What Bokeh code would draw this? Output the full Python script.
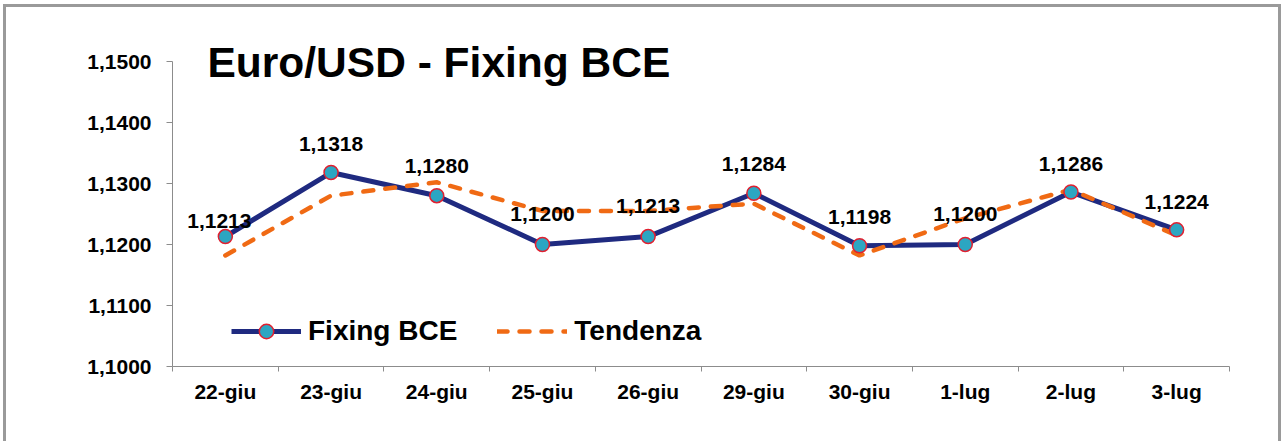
from bokeh.plotting import figure
from bokeh.models import (FactorRange, Range1d, LinearAxis, FixedTicker, CustomJSTickFormatter,
                          ColumnDataSource, Legend, LegendItem, Label)
from bokeh.core.properties import value
from bokeh.embed import file_html
from bokeh.resources import INLINE

# ---- data ----
categories = ["22-giu", "23-giu", "24-giu", "25-giu", "26-giu",
              "29-giu", "30-giu", "1-lug", "2-lug", "3-lug"]
fixing_bce = [1.1213, 1.1318, 1.1280, 1.1200, 1.1213,
              1.1284, 1.1198, 1.1200, 1.1286, 1.1224]
tendenza = [1.1182, 1.1280, 1.1302, 1.1255, 1.1255,
            1.1267, 1.1182, 1.1243, 1.1290, 1.1215]
y_ticks = [1.10, 1.11, 1.12, 1.13, 1.14, 1.15]
title_text = "Euro/USD - Fixing BCE"
series_names = ["Fixing BCE", "Tendenza"]

# ---- styling (not data) ----
FONT = "Liberation Sans"
NAVY = "#1F2A80"
ORANGE = "#F06A14"
MARK_FILL = "#2CA6C2"
MARK_LINE = "#E02030"
AXIS_GRAY = "#8C8C8C"
label_dx = [-6, 0, 0, 0, 0, 0, 0, 0, 0, 0]
label_dy = [-16, -29, -30, -31, -31, -29, -29, -31, -28, -28]

labels = [f"{v:.4f}".replace(".", ",") for v in fixing_bce]
src = ColumnDataSource(dict(cat=categories, fix=fixing_bce, tend=tendenza,
                            lbl=labels, dx=label_dx, dy=label_dy))

# frame extends to the top of the canvas (room for the title inside it);
# the visible y axis is bounded to the tick span
TOP_PAD_PX = 54
FRAME_PX_PER_TICK = 61
y_top = y_ticks[-1] + (y_ticks[1] - y_ticks[0]) * TOP_PAD_PX / FRAME_PX_PER_TICK

p = figure(x_range=FactorRange(factors=categories, range_padding=0),
           y_range=Range1d(y_ticks[0], y_top),
           width=1272, height=434,
           min_border_left=166, min_border_right=49,
           min_border_top=0, min_border_bottom=75,
           x_axis_location=None,
           output_backend="svg", toolbar_location=None)
p.styles = {"outline": "3px solid #9a9a9a", "margin-left": "6px", "margin-top": "7px"}
p.outline_line_color = None
p.grid.visible = False
p.background_fill_color = "white"
p.border_fill_color = "white"

# y axis
yax = p.yaxis[0]
yax.bounds = (y_ticks[0], y_ticks[-1])
yax.ticker = FixedTicker(ticks=y_ticks)
yax.formatter = CustomJSTickFormatter(code="return tick.toFixed(4).replace('.', ',');")
yax.axis_line_color = AXIS_GRAY
yax.major_tick_line_color = AXIS_GRAY
yax.major_tick_out = 6
yax.major_tick_in = 0
yax.minor_tick_line_color = None
yax.major_label_standoff = 15
yax.major_label_text_font = FONT
yax.major_label_text_font_style = "bold"
yax.major_label_text_font_size = "21px"
yax.major_label_text_color = "black"

# x axis: labels at category centres, tick marks at category boundaries
n = len(categories)
xax = LinearAxis(
    ticker=FixedTicker(ticks=[i + 0.5 for i in range(n)], minor_ticks=list(range(n + 1))),
    formatter=CustomJSTickFormatter(args=dict(cats=categories),
                                    code="return cats[Math.floor(tick)];"))
xax.axis_line_color = AXIS_GRAY
xax.major_tick_line_color = None
xax.major_tick_out = 0
xax.major_tick_in = 0
xax.minor_tick_line_color = AXIS_GRAY
xax.minor_tick_out = 5
xax.minor_tick_in = 0
xax.major_label_standoff = 8
xax.major_label_text_font = FONT
xax.major_label_text_font_style = "bold"
xax.major_label_text_font_size = "21px"
xax.major_label_text_color = "black"
p.add_layout(xax, "below")

# series
r_fix = p.line(x="cat", y="fix", source=src, line_color=NAVY, line_width=5, line_join="round")
r_tend = p.line(x="cat", y="tend", source=src, line_color=ORANGE, line_width=4.5,
                line_dash="10 12", line_cap="round")
r_mark = p.scatter(x="cat", y="fix", source=src, size=14, marker="circle",
                   fill_color=MARK_FILL, line_color=MARK_LINE, line_width=1.5)

# data labels
p.text(x="cat", y="fix", text="lbl", source=src, x_offset="dx", y_offset="dy",
       text_align="center", text_baseline="middle",
       text_font=value(FONT), text_font_style="bold", text_font_size="21px",
       text_color="black")

# title
p.add_layout(Label(x=35, y=304, x_units="screen", y_units="screen", text=title_text,
                   text_font=FONT, text_font_style="bold", text_font_size="42.5px",
                   text_color="black", text_baseline="middle", text_align="left"))

# legend
legend = Legend(items=[LegendItem(label=series_names[0], renderers=[r_fix, r_mark]),
                       LegendItem(label=series_names[1], renderers=[r_tend])],
                orientation="horizontal", location=(59, 17),
                label_text_font=FONT, label_text_font_style="bold",
                label_text_font_size="28px", label_text_color="black",
                glyph_width=70, glyph_height=36, label_standoff=7, spacing=40,
                padding=0, margin=0, border_line_alpha=0, background_fill_alpha=0)
p.add_layout(legend)

open("out.html", "w").write(file_html(p, INLINE))
